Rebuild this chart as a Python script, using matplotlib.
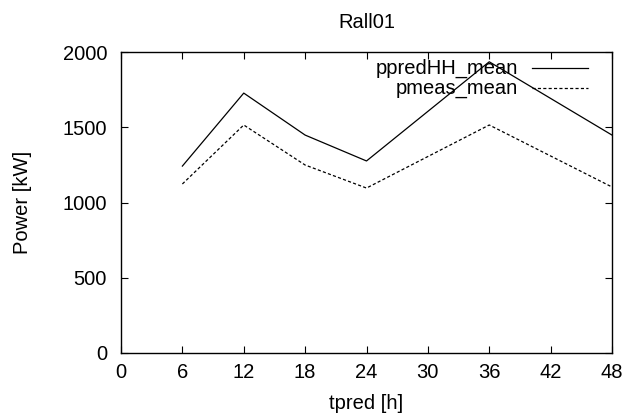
import matplotlib
matplotlib.use('Agg')
import matplotlib.pyplot as plt

plt.rcParams['font.family'] = ['Liberation Sans', 'DejaVu Sans']
plt.rcParams['font.size'] = 14.5

tpred = [6, 12, 18, 24, 36, 48]
ppred_hh_mean = [1242, 1727, 1448, 1276, 1935, 1448]
pmeas_mean = [1123, 1515, 1249, 1096, 1515, 1103]
xticks = [0, 6, 12, 18, 24, 30, 36, 42, 48]
yticks = [0, 500, 1000, 1500, 2000]

fig = plt.figure(figsize=(6.24, 4.18), dpi=100)
ax = fig.add_axes([121/624, 1 - 353/418, 491/624, 301/418])

ax.plot(tpred, ppred_hh_mean, color='black', lw=0.9)
ax.plot(tpred, pmeas_mean, color='black', lw=0.9, dashes=(2.5, 1.8))

# gnuplot-style key: labels right-aligned, sample line to the right
ax.text(0.808, 0.947, 'ppredHH_mean', transform=ax.transAxes, ha='right', va='center')
ax.plot([0.837, 0.951], [0.947, 0.947], transform=ax.transAxes, color='black', lw=0.9)
ax.text(0.808, 0.880, 'pmeas_mean', transform=ax.transAxes, ha='right', va='center')
ax.plot([0.837, 0.951], [0.880, 0.880], transform=ax.transAxes, color='black', lw=0.9,
        dashes=(2.5, 1.8))

ax.set_xlim(0, 48)
ax.set_ylim(0, 2000)
ax.set_xticks(xticks)
ax.set_yticks(yticks)
ax.tick_params(direction='in', top=True, right=True, length=5, width=0.8)
ax.tick_params(axis='y', pad=10)
ax.tick_params(axis='x', pad=7)
for s in ax.spines.values():
    s.set_linewidth(1.0)

ax.set_title('Rall01', fontsize=14.5, pad=17)
ax.set_xlabel('tpred [h]', labelpad=9)
ax.set_ylabel('Power [kW]', labelpad=22)

fig.savefig('out.png', dpi=100)
